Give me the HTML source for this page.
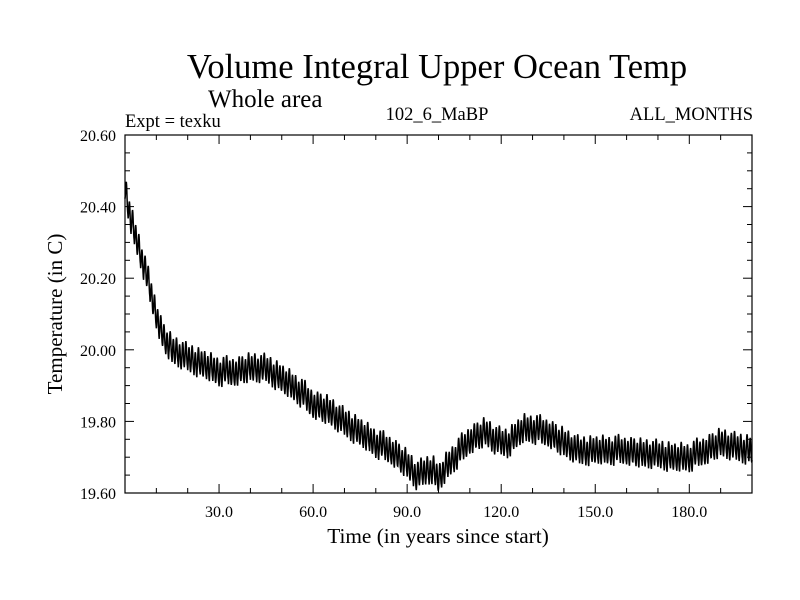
<!DOCTYPE html>
<html><head><meta charset="utf-8"><style>
body{margin:0;background:#fff}
svg{display:block;font-family:"Liberation Serif",serif}
</style></head><body>
<svg id="chart" width="800" height="600">
<text x="437" y="78" font-size="34.5" text-anchor="middle">Volume Integral Upper Ocean Temp</text>
<text x="208" y="107" font-size="25">Whole area</text>
<text x="125" y="127" font-size="18.5">Expt = texku</text>
<text x="437" y="120" font-size="18.5" text-anchor="middle">102_6_MaBP</text>
<text x="753" y="120" font-size="18.5" text-anchor="end">ALL_MONTHS</text>
<text transform="translate(62,314) rotate(-90)" font-size="21" text-anchor="middle">Temperature (in C)</text>
<text x="438" y="543" font-size="21.3" text-anchor="middle">Time (in years since start)</text>
<g id="axes"></g>
<g id="series"></g>
<rect x="125" y="135" width="627" height="358" fill="none" stroke="#000" stroke-width="1.2"/>
</svg>
<script>
const yearAnchors=[0,2,5,8,10,12,15,20,25,30,35,40,45,50,55,60,65,70,75,80,85,90,93,95,98,100,103,107,110,115,118,122,127,130,135,140,145,150,155,160,165,170,175,180,185,190,195,200];
const meanTemps=[20.45,20.36,20.27,20.17,20.10,20.04,20.00,19.98,19.96,19.94,19.94,19.95,19.95,19.92,19.89,19.85,19.83,19.80,19.77,19.74,19.72,19.68,19.65,19.66,19.67,19.64,19.68,19.72,19.75,19.77,19.75,19.74,19.78,19.78,19.77,19.74,19.72,19.72,19.72,19.72,19.71,19.71,19.70,19.70,19.72,19.74,19.73,19.72];
const seasonalCycle=[-0.032,-0.022,-0.005,0.014,0.028,0.034,0.029,0.016,-0.002,-0.018,-0.029,-0.034];
const yearlyJitter=[0.004,-0.006,0.009,-0.003,0.002,-0.01,0.006,0.011,-0.004,0.0,-0.008,0.005,0.003,-0.007,0.01,-0.002,0.006,-0.009,0.001,0.008,-0.005,0.004,-0.011,0.007,-0.001];
const xTickLabels=["30.0","60.0","90.0","120.0","150.0","180.0"];
const xTickValues=[30,60,90,120,150,180];
const yTickValues=[19.6,19.8,20.0,20.2,20.4,20.6];
const yTickLabels=["19.60","19.80","20.00","20.20","20.40","20.60"];
const X0=125,X1=752,Y0=493,Y1=135;
const xs=v=>X0+(v-0)/(200-0)*(X1-X0);
const ys=v=>Y0-(v-19.6)/(20.6-19.6)*(Y0-Y1);
const NS="http://www.w3.org/2000/svg";
const axes=document.getElementById('axes');
function mk(t,a,p){const e=document.createElementNS(NS,t);for(const k in a)e.setAttribute(k,a[k]);p.appendChild(e);return e;}
for(let v=10;v<200;v+=10){
  const major=v%30===0;const L=major?9:5;
  const t=mk('line',{x1:xs(v),x2:xs(v),y1:Y0,y2:Y0-L,stroke:'#000'},axes);
  
  
  const t2=mk('line',{x1:xs(v),x2:xs(v),y1:Y1,y2:Y1+L,stroke:'#000'},axes);
  
  
}
xTickValues.forEach((v,i)=>{
  const t=mk('text',{x:xs(v),y:517,'font-size':16,'text-anchor':'middle'},axes);t.textContent=xTickLabels[i];
  
  
});
for(let k=1;k<20;k++){
  const v=19.6+k*0.05;const major=k%4===0;const L=major?9:5;
  const t=mk('line',{x1:X0,x2:X0+L,y1:ys(v),y2:ys(v),stroke:'#000'},axes);
  
  
  const t2=mk('line',{x1:X1,x2:X1-L,y1:ys(v),y2:ys(v),stroke:'#000'},axes);
  
  
}
yTickValues.forEach((v,i)=>{
  const t=mk('text',{x:116,y:ys(v)+6,'font-size':16,'text-anchor':'end'},axes);t.textContent=yTickLabels[i];
  
  
});
function meanAt(y){
  for(let i=0;i<yearAnchors.length-1;i++){
    if(y<=yearAnchors[i+1]){const f=(y-yearAnchors[i])/(yearAnchors[i+1]-yearAnchors[i]);return meanTemps[i]+f*(meanTemps[i+1]-meanTemps[i]);}
  }
  return meanTemps[meanTemps.length-1];
}
let d='';
for(let m=0;m<=2400;m++){
  const yr=m/12;const v=meanAt(yr)+seasonalCycle[m%12]+yearlyJitter[Math.floor(yr)%yearlyJitter.length];
  d+=(m?'L':'M')+xs(yr).toFixed(2)+','+ys(v).toFixed(2);
}
const p=mk('path',{d:d,fill:'none',stroke:'#000','stroke-width':1.5},document.getElementById('series'));


</script>
</body></html>
